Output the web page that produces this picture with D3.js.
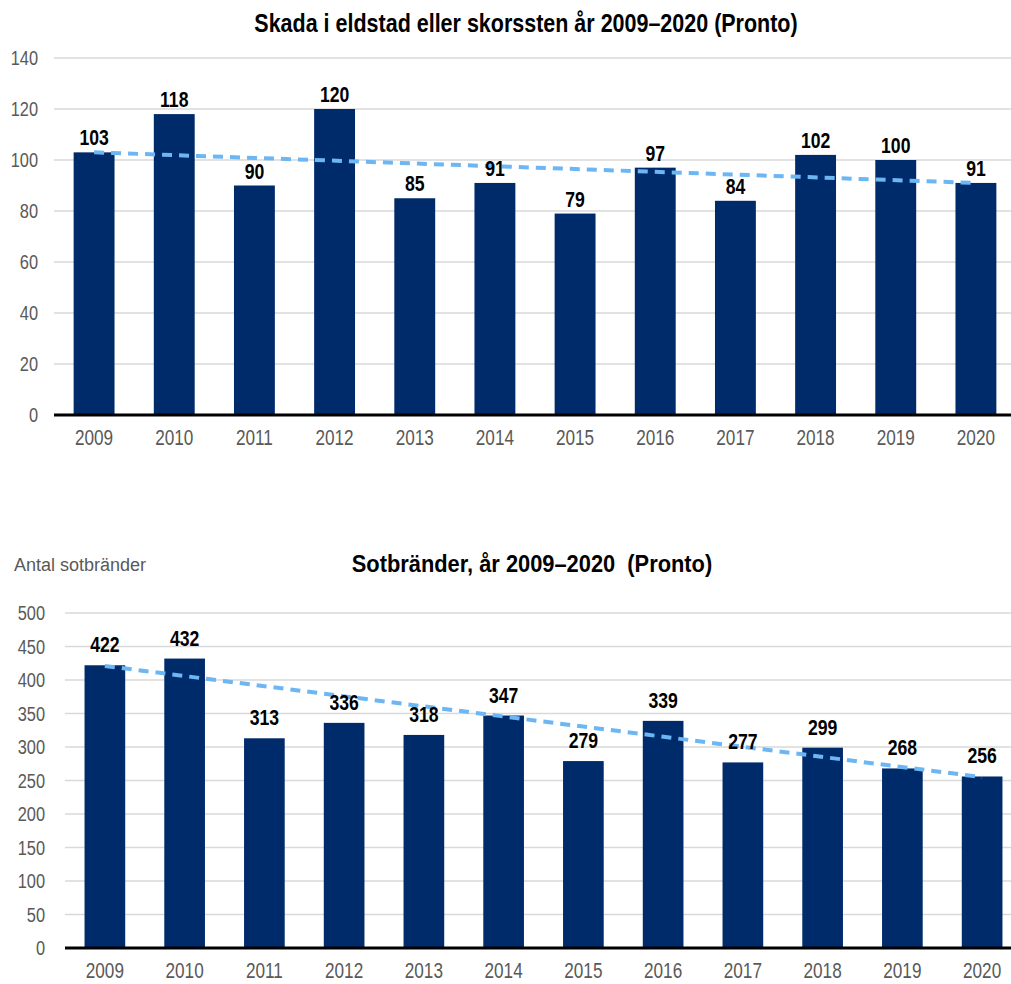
<!DOCTYPE html>
<html>
<head>
<meta charset="utf-8">
<script src="https://cdn.jsdelivr.net/npm/d3@7"></script>
<style>
  body { margin: 0; background: #fff; overflow: hidden; }
  svg { display: block; font-family: "Liberation Sans", Arial, sans-serif; }
</style>
</head>
<body>
<svg id="chart" width="1011" height="984"></svg>
<script>
// years shared by both charts
const years = ["2009", "2010", "2011", "2012", "2013", "2014", "2015", "2016", "2017", "2018", "2019", "2020"];

// chart 1: skada i eldstad eller skorssten
const skadaValues = [103, 118, 90, 120, 85, 91, 79, 97, 84, 102, 100, 91];
const skadaTrend = [103, 91];          // trend line start / end
const skadaTicks = [0, 20, 40, 60, 80, 100, 120, 140];

// chart 2: sotbränder
const sotValues = [422, 432, 313, 336, 318, 347, 279, 339, 277, 299, 268, 256];
const sotTrend = [421, 255];
const sotTicks = [0, 50, 100, 150, 200, 250, 300, 350, 400, 450, 500];

const barColor = "#002B6B";
const trendColor = "#6CB6F4";
const gray = "#595959";
const squeeze = 0.78; // fake a condensed face

const svg = d3.select("#chart");

// place text at (x,y) squeezed horizontally
function narrowText(parent, x, y, s = squeeze) {
    return parent.append("text")
        .attr("transform", `translate(${x},${y}) scale(${s},1)`);
}

function drawChart(opts) {
    const g = svg.append("g");

    const x = d3.scaleBand()
        .domain(years)
        .range([opts.left, opts.right])
        .paddingInner(0.49)
        .paddingOuter(0.245);

    const y = d3.scaleLinear()
        .domain([0, opts.max])
        .range([opts.bottom, opts.top]);

    // title
    narrowText(g, opts.titleX, opts.titleY, opts.titleSqueeze)
        .attr("text-anchor", "middle")
        .style("font-size", opts.titleSize + "px")
        .style("font-weight", "bold")
        .style("white-space", "pre")
        .attr("fill", "#000")
        .text(opts.title);

    // gridlines
    g.selectAll(".grid")
        .data(opts.ticks.filter(t => t > 0))
        .enter()
        .append("line")
        .attr("x1", opts.left)
        .attr("x2", opts.right)
        .attr("y1", d => y(d))
        .attr("y2", d => y(d))
        .attr("stroke", "#d9d9d9")
        .attr("stroke-width", 1.5);

    // y axis labels
    const yAxis = d3.axisLeft(y).tickValues(opts.ticks).tickSize(0).tickPadding(0);
    const ya = g.append("g")
        .attr("transform", `translate(${opts.labelRight},0)`)
        .call(yAxis);
    ya.select(".domain").remove();
    ya.selectAll("text")
        .attr("fill", gray)
        .attr("transform", `scale(${squeeze},1)`)
        .style("font-size", "21px")
        .style("font-family", "inherit");

    // bars
    g.selectAll(".bar")
        .data(opts.values)
        .enter()
        .append("rect")
        .attr("x", (d, i) => x(years[i]))
        .attr("y", d => y(d))
        .attr("width", x.bandwidth())
        .attr("height", d => y(0) - y(d))
        .attr("fill", barColor);

    // trend line
    const first = x(years[0]) + x.bandwidth() / 2;
    const last = x(years[years.length - 1]) + x.bandwidth() / 2;
    g.append("line")
        .attr("x1", first)
        .attr("x2", last)
        .attr("y1", y(opts.trend[0]))
        .attr("y2", y(opts.trend[1]))
        .attr("stroke", trendColor)
        .attr("stroke-width", 4)
        .attr("stroke-dasharray", "10,7");

    // value labels
    opts.values.forEach((d, i) => {
        narrowText(g, x(years[i]) + x.bandwidth() / 2, y(d) - opts.labelGap, 0.8)
            .attr("text-anchor", "middle")
            .style("font-size", "22px")
            .style("font-weight", "bold")
            .attr("fill", "#000")
            .text(d);
    });

    // baseline
    g.append("line")
        .attr("x1", opts.left)
        .attr("x2", opts.right)
        .attr("y1", y(0))
        .attr("y2", y(0))
        .attr("stroke", "#000")
        .attr("stroke-width", 3);

    // x axis labels
    const xa = g.append("g")
        .attr("transform", `translate(0,${y(0)})`)
        .call(d3.axisBottom(x).tickSize(0).tickPadding(opts.xPad));
    xa.select(".domain").remove();
    xa.selectAll("text")
        .attr("fill", gray)
        .attr("transform", `scale(${squeeze},1)`)
        .style("font-size", "22px")
        .style("font-family", "inherit");

    return g;
}

drawChart({
    title: "Skada i eldstad eller skorssten år 2009–2020 (Pronto)",
    titleX: 526, titleY: 32, titleSize: 25, titleSqueeze: 0.86,
    values: skadaValues, trend: skadaTrend, ticks: skadaTicks, max: 140,
    left: 54, right: 1016, top: 58, bottom: 415, labelRight: 38,
    labelGap: 7, xPad: 14
});

const g2 = drawChart({
    title: "Sotbränder, år 2009–2020  (Pronto)",
    titleX: 532, titleY: 572, titleSize: 24, titleSqueeze: 0.91,
    values: sotValues, trend: sotTrend, ticks: sotTicks, max: 500,
    left: 65, right: 1022, top: 613, bottom: 948, labelRight: 45,
    labelGap: 13, xPad: 14
});

narrowText(g2, 14, 571, 1)
    .style("font-size", "18px")
    .attr("fill", gray)
    .text("Antal sotbränder");
</script>
</body>
</html>
